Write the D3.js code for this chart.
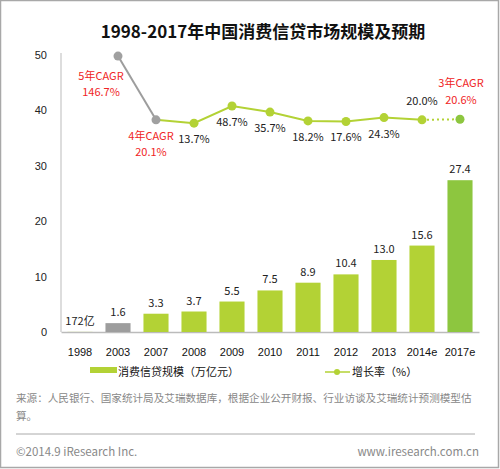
<!DOCTYPE html>
<html>
<head>
<meta charset="utf-8">
<script src="https://cdn.jsdelivr.net/npm/d3@7/dist/d3.min.js"></script>
<style>
  body { margin: 0; background: #fff; }
  svg { display: block; font-family: "Noto Sans CJK SC", "Noto Sans", sans-serif; }
</style>
</head>
<body>
<div id="chart"></div>
<script>
// data
const years = ["1998", "2003", "2007", "2008", "2009", "2010", "2011", "2012", "2013", "2014e", "2017e"];
const scale = [0.0172, 1.6, 3.3, 3.7, 5.5, 7.5, 8.9, 10.4, 13.0, 15.6, 27.4]; // 万亿元
const scaleLabels = ["172亿", "1.6", "3.3", "3.7", "5.5", "7.5", "8.9", "10.4", "13.0", "15.6", "27.4"];
// growth line is drawn at these heights (left axis units) in the original
const growthPos = [null, 49.8, 38.3, 37.7, 40.8, 39.7, 38.1, 38.0, 38.7, 38.3, 38.4];
const growthLabels = [null, null, null, "13.7%", "48.7%", "35.7%", "18.2%", "17.6%", "24.3%", "20.0%", null];
const yTicks = [0, 10, 20, 30, 40, 50];
const cagrNotes = [
  { year: "2003", lines: ["5年CAGR", "146.7%"], dx: -17, dy: [24, 40] },
  { year: "2007", lines: ["4年CAGR", "20.1%"], dx: -5, dy: [20, 36] },
  { year: "2017e", lines: ["3年CAGR", "20.6%"], dx: 1, dy: [-32, -15] }
];

const width = 500, height = 469;
const svg = d3.select("#chart").append("svg")
  .attr("width", width).attr("height", height);

// frame
svg.append("rect").attr("x", 0.5).attr("y", 0.5).attr("width", 498).attr("height", 467)
  .attr("fill", "none").attr("stroke", "#a8a8a8").attr("stroke-width", 1.5);

svg.append("text")
  .attr("x", 263).attr("y", 38)
  .attr("text-anchor", "middle")
  .style("font-size", "17px").style("font-weight", "bold").attr("fill", "#111")
  .text("1998-2017年中国消费信贷市场规模及预期");

const x = d3.scaleBand().domain(years).range([61, 479])
  .paddingInner(0.34).paddingOuter(0.17);
const y = d3.scaleLinear().domain([0, 50]).range([332, 55]);

// axes
const yAxis = svg.append("g").attr("transform", "translate(61,0)")
  .call(d3.axisLeft(y).tickValues(yTicks).tickSize(0).tickPadding(14));
yAxis.select(".domain").attr("stroke", "#bbb").attr("d", "M0,53V332");
yAxis.selectAll("text").style("font-size", "11px").attr("fill", "#222");

const xAxis = svg.append("g").attr("transform", "translate(0,332)")
  .call(d3.axisBottom(x).tickSize(0).tickPadding(16));
xAxis.select(".domain").attr("stroke", "#bbb").attr("stroke-width", 1.5);
xAxis.selectAll("text").style("font-size", "11px").attr("fill", "#111");

const barColor = (d, i) => i === 1 ? "#9d9d9d" : (i === years.length - 1 ? "#8dc63f" : "#b3d235");

// bars
svg.append("g").selectAll("rect")
  .data(years)
  .join("rect")
  .attr("x", d => x(d))
  .attr("width", x.bandwidth())
  .attr("y", (d, i) => y(scale[i]))
  .attr("height", (d, i) => y(0) - y(scale[i]))
  .attr("fill", barColor);

svg.append("g").selectAll("text")
  .data(years)
  .join("text")
  .attr("x", d => x(d) + x.bandwidth() / 2)
  .attr("y", (d, i) => y(scale[i]) - 7)
  .attr("text-anchor", "middle")
  .style("font-size", "11px").attr("fill", "#222")
  .text((d, i) => scaleLabels[i]);

// growth line
const pts = years.map((d, i) => ({ year: d, v: growthPos[i], lab: growthLabels[i], i }))
  .filter(p => p.v != null);
const cx = p => x(p.year) + x.bandwidth() / 2;
const line = d3.line().x(cx).y(p => y(p.v));

svg.append("path").datum(pts.slice(0, 2)).attr("d", line)
  .attr("fill", "none").attr("stroke", "#9d9d9d").attr("stroke-width", 2);
svg.append("path").datum(pts.slice(1, pts.length - 1)).attr("d", line)
  .attr("fill", "none").attr("stroke", "#b3d235").attr("stroke-width", 2);
svg.append("path").datum(pts.slice(pts.length - 2)).attr("d", line)
  .attr("fill", "none").attr("stroke", "#b3d235").attr("stroke-width", 2)
  .attr("stroke-dasharray", "2,3");

svg.append("g").selectAll("circle")
  .data(pts)
  .join("circle")
  .attr("cx", cx).attr("cy", p => y(p.v)).attr("r", 4.5)
  .attr("fill", p => p.i <= 2 ? "#a0a0a0" : (p.i === years.length - 1 ? "#8dc63f" : "#b3d235"));

svg.append("g").selectAll("text")
  .data(pts.filter(p => p.lab))
  .join("text")
  .attr("x", cx)
  .attr("y", p => p.year === "2014e" ? y(p.v) - 15 : y(p.v) + 20)
  .attr("text-anchor", "middle")
  .style("font-size", "11px").attr("fill", "#222")
  .text(p => p.lab);

// CAGR notes
cagrNotes.forEach(n => {
  const p = pts.find(q => q.year === n.year);
  n.lines.forEach((t, k) => {
    svg.append("text")
      .attr("x", cx(p) + n.dx).attr("y", y(p.v) + n.dy[k])
      .attr("text-anchor", "middle")
      .style("font-size", "11px").attr("fill", "#f02525")
      .text(t);
  });
});

// legend
svg.append("rect").attr("x", 90).attr("y", 367).attr("width", 27).attr("height", 6).attr("fill", "#b3d235");
svg.append("text").attr("x", 118).attr("y", 376).style("font-size", "11px").attr("fill", "#111")
  .text("消费信贷规模（万亿元）");
svg.append("line").attr("x1", 325).attr("x2", 350).attr("y1", 372).attr("y2", 372)
  .attr("stroke", "#b3d235").attr("stroke-width", 1.5);
svg.append("circle").attr("cx", 337).attr("cy", 372).attr("r", 3).attr("fill", "#b3d235");
svg.append("text").attr("x", 352).attr("y", 376).style("font-size", "11px").attr("fill", "#111")
  .text("增长率（%）");

// source + footer
svg.append("text").attr("x", 16).attr("y", 402).style("font-size", "10.6px").attr("fill", "#888")
  .text("来源：人民银行、国家统计局及艾瑞数据库，根据企业公开财报、行业访谈及艾瑞统计预测模型估");
svg.append("text").attr("x", 16).attr("y", 420).style("font-size", "10.6px").attr("fill", "#888")
  .text("算。");
svg.append("line").attr("x1", 16).attr("x2", 475).attr("y1", 434).attr("y2", 434)
  .attr("stroke", "#aaa").attr("stroke-width", 1);
svg.append("text").attr("x", 16).attr("y", 456).style("font-size", "11.5px").attr("fill", "#888")
  .text("©2014.9 iResearch Inc.");
svg.append("text").attr("x", 479).attr("y", 456).attr("text-anchor", "end")
  .style("font-size", "11.5px").attr("fill", "#888")
  .text("www.iresearch.com.cn");
</script>
</body>
</html>
